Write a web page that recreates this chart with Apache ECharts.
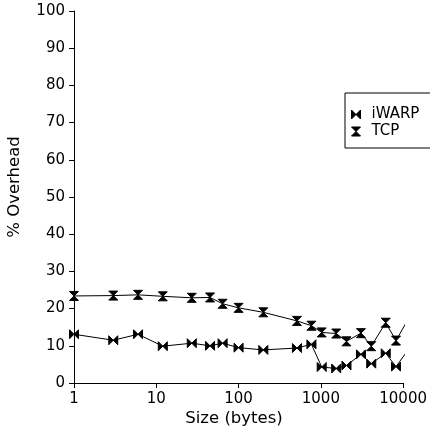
<!DOCTYPE html>
<html>
<head>
<meta charset="utf-8">
<script src="https://cdn.jsdelivr.net/npm/echarts@6/dist/echarts.min.js"></script>
<style>
  html, body { margin: 0; padding: 0; background: #fff; }
  #chart { width: 430px; height: 433px; }
</style>
</head>
<body>
<div id="chart"></div>
<script>
// Message sizes (bytes) and measured overhead (%) per transport
const sizes = [1, 3, 6, 12, 27, 45, 64, 100, 200, 512, 768, 1024, 1536, 2048, 3072, 4096, 6144, 8192, 12288];
const iwarp = [13.1, 11.5, 13.1, 9.9, 10.7, 10.0, 10.7, 9.5, 8.9, 9.4, 10.4, 4.3, 3.9, 4.7, 7.7, 5.2, 8.0, 4.4, 9.8];
const tcp = [23.4, 23.5, 23.7, 23.3, 22.9, 23.0, 21.3, 20.2, 19.0, 16.7, 15.4, 13.6, 13.3, 11.2, 13.4, 9.9, 16.2, 11.4, 18.3];
const xTicks = [1, 10, 100, 1000, 10000];
const yTicks = [0, 10, 20, 30, 40, 50, 60, 70, 80, 90, 100];
const seriesNames = ['iWARP', 'TCP'];

// Bow-tie markers: horizontal for iWARP, hourglass for TCP
const bowtieH = 'path://M0,0 L5,5 L0,10 Z M10,0 L5,5 L10,10 Z';
const bowtieV = 'path://M0,0 L10,0 L5,5 Z M0,10 L10,10 L5,5 Z';

const font = 'DejaVu Sans';
const chart = echarts.init(document.getElementById('chart'));

function pairs(ys) {
  return sizes.map((s, i) => [s, ys[i]]);
}

const markerStyle = { color: '#000', borderColor: '#000', borderWidth: 1 };

chart.setOption({
  animation: false,
  backgroundColor: '#fff',
  textStyle: { fontFamily: font },
  grid: { left: 74, top: 11, right: 24, bottom: 50 },
  xAxis: {
    type: 'log',
    logBase: 10,
    min: xTicks[0],
    max: xTicks[xTicks.length - 1],
    axisLine: { lineStyle: { color: '#000', width: 1 } },
    axisTick: { show: true, inside: false, length: 5, lineStyle: { color: '#000' } },
    minorTick: { show: false },
    splitLine: { show: false },
    axisLabel: {
      color: '#000', fontSize: 15, fontFamily: font, margin: 9,
      formatter: v => String(Math.round(v))
    }
  },
  yAxis: {
    type: 'value',
    min: yTicks[0],
    max: yTicks[yTicks.length - 1],
    interval: 10,
    axisLine: { show: true, lineStyle: { color: '#000', width: 1 } },
    axisTick: { show: true, inside: false, length: 5, lineStyle: { color: '#000' } },
    splitLine: { show: false },
    axisLabel: { color: '#000', fontSize: 15, fontFamily: font, margin: 9 }
  },
  legend: {
    orient: 'vertical',
    left: 345,
    top: 93,
    padding: [13, 40, 8, 6],
    itemGap: 0,
    itemWidth: 9,
    itemHeight: 9,
    backgroundColor: '#fff',
    borderColor: '#000',
    borderWidth: 1,
    borderRadius: 0,
    itemStyle: markerStyle,
    textStyle: { color: '#000', fontSize: 15, fontFamily: font, lineHeight: 17, padding: [0, 0, 0, 6] },
    data: [
      { name: seriesNames[0], icon: bowtieH },
      { name: seriesNames[1], icon: bowtieV }
    ]
  },
  graphic: [
    {
      type: 'text',
      x: 15, y: 187,
      rotation: Math.PI / 2,
      style: {
        text: '% Overhead', fill: '#000', font: '16.5px "DejaVu Sans"',
        align: 'center', verticalAlign: 'middle'
      }
    },
    {
      type: 'text',
      x: 234, y: 419,
      style: {
        text: 'Size (bytes)', fill: '#000', font: '16.5px "DejaVu Sans"',
        align: 'center', verticalAlign: 'middle'
      }
    }
  ],
  series: [
    {
      name: seriesNames[0],
      type: 'line',
      data: pairs(iwarp),
      clip: true,
      symbol: bowtieH,
      symbolSize: 9,
      showAllSymbol: true,
      lineStyle: { color: '#000', width: 1 },
      itemStyle: markerStyle
    },
    {
      name: seriesNames[1],
      type: 'line',
      data: pairs(tcp),
      clip: true,
      symbol: bowtieV,
      symbolSize: 9,
      showAllSymbol: true,
      lineStyle: { color: '#000', width: 1 },
      itemStyle: markerStyle
    }
  ]
});
</script>
</body>
</html>
